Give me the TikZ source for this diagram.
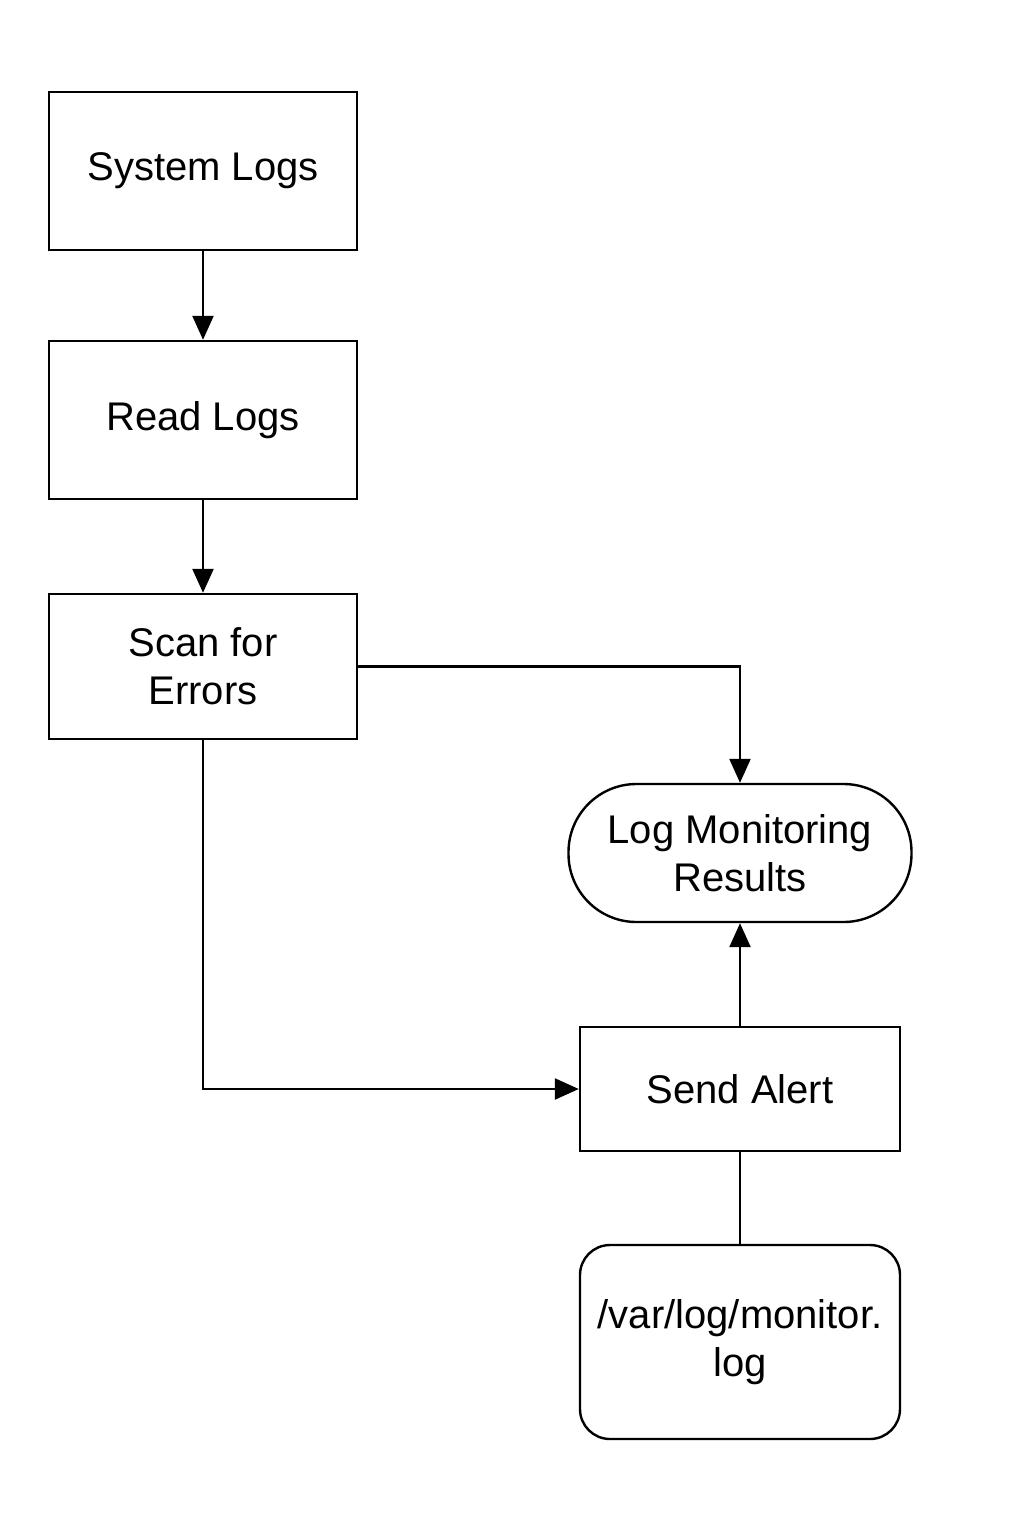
\documentclass[tikz,border=0pt]{standalone}
\usepackage{fontspec}
\setmainfont{Liberation Sans}
\usetikzlibrary{arrows.meta, positioning}

\begin{document}
\begin{tikzpicture}[
            x=0.5pt, y=-0.5pt,
            every node/.style={font=\fontsize{20}{24}\selectfont},
            process/.style={
                rectangle,
                draw,
                line width=1.2pt,
                inner sep=0pt,
                minimum width=154pt,
                align=center
            },
            terminal/.style={
                rectangle,
                draw,
                line width=1.2pt,
                rounded corners=34pt,
                inner sep=0pt,
                minimum width=171.5pt,
                minimum height=69pt,
                align=center
            },
            storage/.style={
                rectangle,
                draw,
                line width=1.2pt,
                rounded corners=15pt,
                inner sep=0pt,
                minimum width=160pt,
                minimum height=97pt,
                align=center
            },
            arrow/.style={
                -{Triangle[length=12pt, width=10.5pt]},
                line width=1.2pt
            },
            link/.style={
                line width=1.2pt
            }
        ]
        \useasboundingbox (0,0) rectangle (1024,1536);

        % Processing Steps
        \node (syslogs) [process, minimum height=79pt] at (203,171) {System Logs};
        \node (readlogs) [process, minimum height=79pt] at (203,420) {Read Logs};
        \node (scan) [process, minimum height=72.5pt] at (203,666.5) {Scan for\\Errors};

        % Results and Alert
        \node (results) [terminal] at (740,853) {Log Monitoring\\Results};
        \node (alert) [process, minimum width=160pt, minimum height=62pt] at (740,1089) {Send Alert};
        \node (logfile) [storage] at (740,1342) {/var/log/monitor.\\log};

        % Arrows between Steps
        \draw[arrow] (syslogs) -- (readlogs);
        \draw[arrow] (readlogs) -- (scan);
        \draw[arrow] (scan.east) -| (results.north);
        \draw[arrow] (scan.south) |- (alert.west);
        \draw[arrow] (alert) -- (results);
        \draw[link] (alert) -- (logfile);

        \end{tikzpicture}
\end{document}
